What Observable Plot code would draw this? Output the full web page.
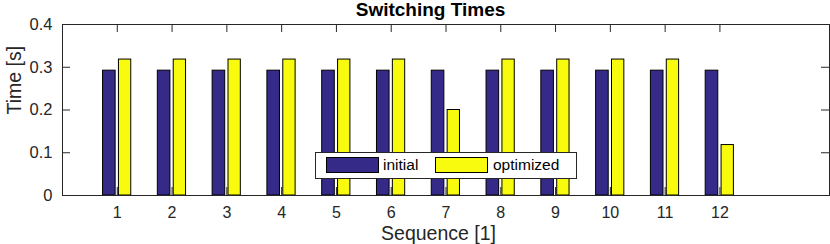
<!DOCTYPE html>
<html>
<head>
<meta charset="utf-8">
<script src="https://cdn.jsdelivr.net/npm/d3@7"></script>
<script src="https://cdn.jsdelivr.net/npm/@observablehq/plot@0.6"></script>
<style>
  html, body { margin: 0; padding: 0; background: #fff; }
  #wrap { position: relative; width: 830px; height: 244px; font-family: "Liberation Sans", Arial, sans-serif; }
  #legend { position: absolute; left: 315px; top: 152px; width: 260px; height: 25px; border: 1px solid #262626; background: #fff; }
  .sw { position: absolute; top: 4px; width: 51px; height: 14px; border: 1px solid #000; }
  .lt { position: absolute; top: 3px; font-size: 15.5px; color: #000; line-height: 18px; }
</style>
</head>
<body>
<div id="wrap"></div>
<script>
const sequences = [1, 2, 3, 4, 5, 6, 7, 8, 9, 10, 11, 12];
const initial   = [0.292, 0.292, 0.292, 0.292, 0.292, 0.292, 0.292, 0.292, 0.292, 0.292, 0.292, 0.292];
const optimized = [0.318, 0.318, 0.318, 0.318, 0.318, 0.318, 0.200, 0.318, 0.318, 0.318, 0.318, 0.118];
const seriesNames = ["initial", "optimized"];
const seriesColors = ["#352a87", "#f9fb0e"];
const yTicks = [0, 0.1, 0.2, 0.3, 0.4];

const rows = [];
sequences.forEach((s, i) => {
  rows.push({seq: s, series: "initial", value: initial[i], lo: -0.26, hi: -0.03});
  rows.push({seq: s, series: "optimized", value: optimized[i], lo: 0.03, hi: 0.255});
});

const W = 830, H = 244, mL = 62, mR = 1, mT = 24, mB = 49;
const frameH = H - mT - mB, frameW = W - mL - mR;
const axisColor = "#262626";

const chart = Plot.plot({
  width: W, height: H,
  marginLeft: mL, marginRight: mR, marginTop: mT, marginBottom: mB,
  style: {fontFamily: "'Liberation Sans', Arial, sans-serif", background: "#fff", color: "#262626"},
  x: {domain: [0, 14]},
  y: {domain: [0, 0.4]},
  color: {domain: seriesNames, range: seriesColors},
  marks: [
    Plot.rectY(rows, {
      x1: d => d.seq + d.lo, x2: d => d.seq + d.hi,
      y1: 0, y2: "value",
      fill: "series", stroke: "#000", strokeWidth: 1
    }),
    Plot.tickX(sequences, {x: d => d, stroke: axisColor, insetTop: frameH - 8}),
    Plot.tickX(sequences, {x: d => d, stroke: axisColor, insetBottom: frameH - 8}),
    Plot.tickY(yTicks, {y: d => d, stroke: axisColor, insetRight: frameW - 8}),
    Plot.tickY(yTicks, {y: d => d, stroke: axisColor, insetLeft: frameW - 8}),
    Plot.frame({stroke: axisColor, strokeWidth: 1}),
    Plot.axisX(sequences, {tickSize: 0, tickPadding: 11, fontSize: 16, label: null, fill: "#262626"}),
    Plot.axisY(yTicks, {tickSize: 0, tickPadding: 10, fontSize: 16.5, label: null, tickFormat: d => String(d), fill: "#262626"}),
    Plot.text(["Switching Times"], {frameAnchor: "top", lineAnchor: "bottom", dx: -15.5, dy: -9, fontSize: 19, fontWeight: "bold", fill: "#000"}),
    Plot.text(["Sequence [1]"], {frameAnchor: "bottom", lineAnchor: "bottom", dx: -7.5, dy: 44, fontSize: 19.5, fill: "#262626"}),
    Plot.text(["Time [s]"], {frameAnchor: "left", lineAnchor: "bottom", dx: -42, dy: 4.5, rotate: -90, fontSize: 19.5, fill: "#262626"})
  ]
});

const wrap = document.getElementById("wrap");
wrap.appendChild(chart);

const legend = document.createElement("div");
legend.id = "legend";
const items = [
  {name: seriesNames[0], color: seriesColors[0], sx: 10, tx: 67},
  {name: seriesNames[1], color: seriesColors[1], sx: 119, tx: 177}
];
items.forEach(it => {
  const sw = document.createElement("div");
  sw.className = "sw";
  sw.style.left = it.sx + "px";
  sw.style.background = it.color;
  legend.appendChild(sw);
  const t = document.createElement("div");
  t.className = "lt";
  t.style.left = it.tx + "px";
  t.textContent = it.name;
  legend.appendChild(t);
});
wrap.appendChild(legend);
</script>
</body>
</html>
